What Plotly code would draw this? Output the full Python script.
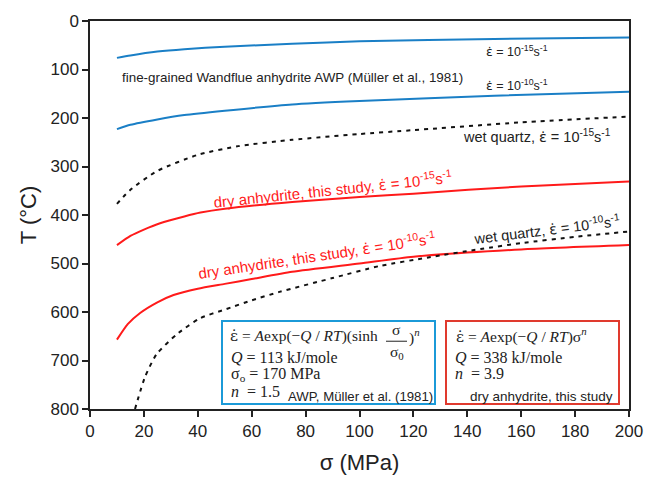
import plotly.graph_objects as go

# ---- data ----
awp15_sigma = [10, 15, 25, 35, 50, 75, 100, 150, 200]
awp15_T = [76, 71, 63, 58, 53, 47, 42, 37, 34]

awp10_sigma = [10, 15, 25, 35, 50, 75, 100, 150, 200]
awp10_T = [223, 214, 203, 194, 185, 172, 165, 154, 146]

wq15_sigma = [10, 15, 25, 40, 55, 75, 100, 120, 160, 200]
wq15_T = [377, 348, 309, 276, 258, 245, 233, 225, 209, 197]

dry15_sigma = [10, 15, 20, 26, 35, 41, 50, 75, 100, 120, 160, 200]
dry15_T = [462, 443, 430, 417, 403, 395, 387, 373, 363, 356, 341, 331]

dry10_sigma = [10, 14, 18.6, 25, 31, 40, 50, 60, 75, 100, 120, 160, 200]
dry10_T = [657, 625, 602, 580, 565, 552, 542, 532, 517, 500, 486, 471, 462]

wq10_sigma = [16.7, 20.4, 24.7, 32.2, 40.8, 50, 60, 70, 90, 107.6, 125, 145, 160, 180, 200]
wq10_T = [800, 734, 687, 646, 613, 595, 576, 559, 530, 505, 488, 470, 458, 445, 434]

x_ticks = [0, 20, 40, 60, 80, 100, 120, 140, 160, 180, 200]
y_ticks = [0, 100, 200, 300, 400, 500, 600, 700, 800]

BLUE = "#1a7fc6"
RED = "#ff1a1a"
BOX_BLUE = "#1b9ad8"
BOX_RED = "#e03a2e"

# plot-area geometry helpers (pixel -> data) for placing text
L, R, T0, B = 90, 629, 14, 409
def px(xp):
    return (xp - L) / (R - L) * 200
def py(yp):
    return (yp - T0) / (B - T0) * 800

fig = go.Figure()
solid = dict(shape="spline", smoothing=0.6, width=2)
fig.add_trace(go.Scatter(x=awp15_sigma, y=awp15_T, mode="lines", line=dict(color=BLUE, **solid)))
fig.add_trace(go.Scatter(x=awp10_sigma, y=awp10_T, mode="lines", line=dict(color=BLUE, **solid)))
fig.add_trace(go.Scatter(x=dry15_sigma, y=dry15_T, mode="lines", line=dict(color=RED, **solid)))
fig.add_trace(go.Scatter(x=dry10_sigma, y=dry10_T, mode="lines", line=dict(color=RED, **solid)))
dashed = dict(shape="spline", smoothing=0.6, width=2, dash="4px,5px", color="#111")
fig.add_trace(go.Scatter(x=wq15_sigma, y=wq15_T, mode="lines", line=dashed))
fig.add_trace(go.Scatter(x=wq10_sigma, y=wq10_T, mode="lines", line=dashed))

SANS = "Liberation Sans, Arial, sans-serif"
SERIF = "Liberation Serif, Times New Roman, serif"
ed = "<span style=\"font-family:'DejaVu Sans'\">ε\u0307</span>"
eds = "<span style=\"font-family:'DejaVu Serif'\">ε\u0307</span>"

ann = []
def txt(xp, yp, text, size=12, color="#222", family=SANS, angle=0, xanchor="center"):
    ann.append(dict(x=px(xp), y=py(yp), xref="x", yref="y", text=text, showarrow=False,
                    font=dict(size=size, color=color, family=family), textangle=angle,
                    xanchor=xanchor, yanchor="middle"))

txt(517, 45, ed + " = 10<sup>-15</sup>s<sup>-1</sup>", size=12.5)
txt(517, 79, ed + " = 10<sup>-10</sup>s<sup>-1</sup>", size=12.5)
txt(292, 72, "fine-grained Wandflue anhydrite AWP (Müller et al., 1981)", size=13.4)
txt(537, 131, "wet quartz, " + ed + " = 10<sup>-15</sup>s<sup>-1</sup>", size=14.5)
txt(333, 185, "dry anhydrite, this study, " + ed + " = 10<sup>-15</sup>s<sup>-1</sup>", size=15, color=RED, angle=-6)
txt(317, 252, "dry anhydrite, this study, " + ed + " = 10<sup>-10</sup>s<sup>-1</sup>", size=15, color=RED, angle=-8.5)
txt(547, 226, "wet quartz, " + ed + " = 10<sup>-10</sup>s<sup>-1</sup>", size=14.5, angle=-7)

# blue box text
txt(228, 335, eds + " = <i>A</i>exp(−<i>Q</i> / <i>RT</i>)(sinh", size=15.5, family=SERIF, xanchor="left")
txt(396, 328, "σ", size=15.5, family=SERIF)
txt(397, 351, "σ<sub>0</sub>", size=15.5, family=SERIF)
txt(407, 335, ")<sup><i>n</i></sup>", size=15.5, family=SERIF, xanchor="left")
txt(229, 357, "<i>Q</i> = 113 kJ/mole", size=16, family=SERIF, xanchor="left")
txt(229, 374, "σ<sub>o</sub> = 170 MPa", size=16, family=SERIF, xanchor="left")
txt(229, 391, "<i>n</i>  = 1.5", size=16, family=SERIF, xanchor="left")
txt(286, 396, "AWP, Müller et al. (1981)", size=13.2, xanchor="left")

# red box text
txt(454, 334, eds + " = <i>A</i>exp(−<i>Q</i> / <i>RT</i>)σ<sup><i>n</i></sup>", size=15.5, family=SERIF, xanchor="left")
txt(453, 357, "<i>Q</i> = 338 kJ/mole", size=16, family=SERIF, xanchor="left")
txt(453, 373, "<i>n</i>  = 3.9", size=16, family=SERIF, xanchor="left")
ann.append(dict(x=px(615), y=py(396), xref="x", yref="y", text="dry anhydrite, this study", showarrow=False,
                font=dict(size=13.5, color="#222", family=SANS), xanchor="right", yanchor="middle"))

shapes = [
    dict(type="rect", xref="x", yref="y", x0=px(222), x1=px(435), y0=py(319.5), y1=py(404),
         line=dict(color=BOX_BLUE, width=2), fillcolor="white", layer="below"),
    dict(type="rect", xref="x", yref="y", x0=px(446), x1=px(619), y0=py(319.5), y1=py(404),
         line=dict(color=BOX_RED, width=2), fillcolor="white", layer="below"),
    dict(type="line", xref="x", yref="y", x0=px(386), x1=px(407), y0=py(340), y1=py(340),
         line=dict(color="#222", width=1)),
]

fig.update_layout(
    width=659, height=483,
    margin=dict(l=90, r=30, t=14, b=74),
    paper_bgcolor="white", plot_bgcolor="white",
    showlegend=False,
    font=dict(family=SANS, color="#222"),
    annotations=ann, shapes=shapes,
    xaxis=dict(range=[0, 200], tickvals=x_ticks, ticks="outside", ticklen=6, tickwidth=1.5,
               tickcolor="#222", showline=True, linecolor="#222", linewidth=1.5, mirror=True,
               showgrid=False, zeroline=False, tickfont=dict(size=17),
               title=dict(text="σ (MPa)", font=dict(size=22), standoff=14)),
    yaxis=dict(range=[800, 0], tickvals=y_ticks, ticks="outside", ticklen=6, tickwidth=1.5,
               tickcolor="#222", showline=True, linecolor="#222", linewidth=1.5, mirror=True,
               showgrid=False, zeroline=False, tickfont=dict(size=17),
               title=dict(text="T (°C)", font=dict(size=22), standoff=8)),
)

fig.write_html("out.html")
